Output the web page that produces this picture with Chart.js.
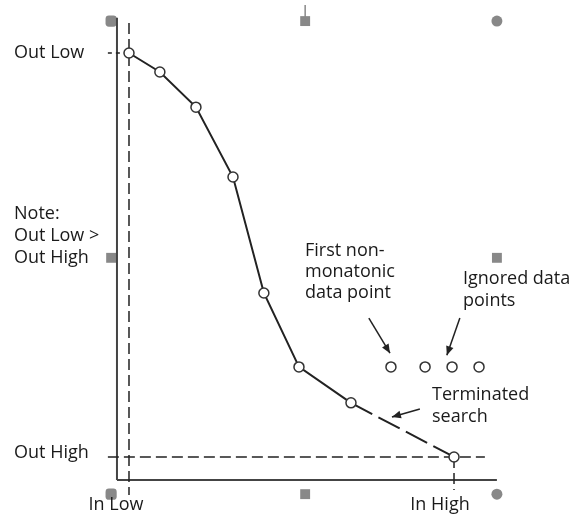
<!DOCTYPE html>
<html><head><meta charset="utf-8">
<script src="https://cdn.jsdelivr.net/npm/chart.js@4"></script>
<style>html,body{margin:0;padding:0;background:#fff}</style>
</head><body>
<canvas id="c" width="582" height="515"></canvas>
<script>
// ---- data (input units: In Low = 0, In High = 100; output units: Out High = 0, Out Low = 100)
const curveIn  = [0, 9.5, 20.6, 32.0, 41.5, 52.3, 68.3];
const curveOut = [100, 95.3, 86.6, 69.3, 40.6, 22.3, 13.4];
const searchIn  = [68.3, 100];
const searchOut = [13.4, 0];
const ignoredIn  = [80.6, 91.1, 99.4, 107.7];
const ignoredOut = [22.3, 22.3, 22.3, 22.3];
const axisYIn = [-3.7, -3.7];   const axisYOut = [108.7, -5.7];
const axisXIn = [-3.7, 113.2];  const axisXOut = [-5.7, -5.7];
const outLowIn = [-6.5, 0];     const outLowOut = [100, 100];
const outHighIn = [-6.5, 109.5]; const outHighOut = [0, 0];
const inLowIn = [0, 0];         const inLowOut = [107.4, -9.4];
const inHighIn = [100, 100];    const inHighOut = [0, -8.2];
const arrow1In = [73.8, 80.3];  const arrow1Out = [34.4, 25.7];
const arrow2In = [101.8, 97.8]; const arrow2Out = [34.4, 25.2];
const arrow3In = [89.5, 80.9];  const arrow3Out = [11.9, 9.9];
const handleIn  = [-5.5, 54.2, 113.2, -5.5, 113.2, -5.5, 54.2, 113.2];
const handleOut = [107.9, 107.9, 107.9, 49.3, 49.3, -9.2, -9.2, -9.2];
const handleShape = ['rectRounded', 'rect', 'circle', 'rect', 'rect', 'rectRounded', 'rect', 'circle'];
const stemIn = [54.2, 54.2];    const stemOut = [107.9, 111.9];
const axisLabels = ['Out Low', 'Out High', 'In Low', 'In High'];
const noteLines = ['Note:', 'Out Low >', 'Out High'];
const firstLines = ['First non-', 'monatonic', 'data point'];
const ignoredLines = ['Ignored data', 'points'];
const termLines = ['Terminated', 'search'];

const zip = (xs, ys) => xs.map((x, i) => ({x, y: ys[i]}));
const INK = '#222';
const FONT = '18px "Open Sans"';

const lineDs = (xs, ys, extra) => Object.assign({
  data: zip(xs, ys), showLine: true, borderColor: INK, borderWidth: 2,
  pointRadius: 0, fill: false, tension: 0, clip: false
}, extra || {});

const datasets = [
  lineDs(curveIn, curveOut, {pointRadius: 5, pointBackgroundColor: '#fff', pointBorderColor: '#333', pointBorderWidth: 1.5}),
  lineDs(searchIn, searchOut, {borderDash: [24, 7], pointRadius: [0, 5], pointBackgroundColor: '#fff', pointBorderColor: '#333', pointBorderWidth: 1.5}),
  {data: zip(ignoredIn, ignoredOut), showLine: false, pointRadius: 5, pointBackgroundColor: '#fff', pointBorderColor: '#333', pointBorderWidth: 1.5},
  lineDs(outLowIn, outLowOut, {borderWidth: 1.5, borderDash: [4, 4]}),
  lineDs(outHighIn, outHighOut, {borderWidth: 1.5, borderDash: [11, 5]}),
  lineDs(inLowIn, inLowOut, {borderWidth: 1.5, borderDash: [11, 5]}),
  lineDs(inHighIn, inHighOut, {borderWidth: 1.5, borderDash: [11, 5]}),
  lineDs(arrow1In, arrow1Out, {borderWidth: 1.5, arrowHead: true}),
  lineDs(arrow2In, arrow2Out, {borderWidth: 1.5, arrowHead: true}),
  lineDs(arrow3In, arrow3Out, {borderWidth: 1.5, arrowHead: true}),
  lineDs(axisYIn, axisYOut, {borderColor: '#444', borderWidth: 2}),
  lineDs(axisXIn, axisXOut, {borderColor: '#444', borderWidth: 2}),
  lineDs(stemIn, stemOut, {borderColor: '#888', borderWidth: 1.5}),
  {data: zip(handleIn, handleOut), showLine: false, pointStyle: handleShape,
   pointRadius: handleShape.map(s => s === 'rect' ? 7 : (s === 'circle' ? 5.5 : 6.5)),
   pointBackgroundColor: '#888', pointBorderColor: '#888', pointBorderWidth: 0, clip: false}
];

const arrowPlugin = {
  id: 'arrows',
  afterDatasetsDraw(chart) {
    const ctx = chart.ctx;
    chart.data.datasets.forEach((ds, i) => {
      if (!ds.arrowHead) return;
      const pts = chart.getDatasetMeta(i).data;
      const a = pts[pts.length - 2], b = pts[pts.length - 1];
      const ang = Math.atan2(b.y - a.y, b.x - a.x);
      const L = 9, W = 3.8;
      ctx.save();
      ctx.fillStyle = INK;
      ctx.beginPath();
      ctx.moveTo(b.x, b.y);
      ctx.lineTo(b.x - L * Math.cos(ang) + W * Math.sin(ang), b.y - L * Math.sin(ang) - W * Math.cos(ang));
      ctx.lineTo(b.x - L * Math.cos(ang) - W * Math.sin(ang), b.y - L * Math.sin(ang) + W * Math.cos(ang));
      ctx.closePath();
      ctx.fill();
      ctx.restore();
    });
  }
};

const textPlugin = {
  id: 'texts',
  afterDraw(chart) {
    const ctx = chart.ctx;
    const xs = chart.scales.x, ys = chart.scales.y;
    ctx.save();
    ctx.font = FONT;
    ctx.fillStyle = '#1a1a1a';
    ctx.textBaseline = 'middle';
    ctx.textAlign = 'left';
    ctx.fillText(axisLabels[0], 14, ys.getPixelForValue(100));
    ctx.fillText(axisLabels[1], 14, ys.getPixelForValue(0) - 4);
    ctx.textAlign = 'center';
    ctx.fillText(axisLabels[2], xs.getPixelForValue(0) - 13, 505);
    ctx.fillText(axisLabels[3], xs.getPixelForValue(100) - 14, 505);
    ctx.textAlign = 'left';
    const block = (lines, x, y0, lh) => lines.forEach((t, k) => ctx.fillText(t, x, y0 + k * lh));
    block(noteLines, 14, 214, 22);
    block(firstLines, 305, 251, 21);
    block(ignoredLines, 463, 279, 22);
    block(termLines, 432, 395, 22);
    ctx.restore();
  }
};

new Chart(document.getElementById('c'), {
  type: 'scatter',
  data: {datasets},
  options: {
    responsive: false, animation: false, events: [],
    layout: {padding: 0, autoPadding: false},
    plugins: {legend: {display: false}, tooltip: {enabled: false}},
    scales: {
      x: {type: 'linear', display: false, min: -39.69, max: 139.38},
      y: {type: 'linear', display: false, min: -14.36, max: 113.12}
    }
  },
  plugins: [arrowPlugin, textPlugin]
});
</script>
</body></html>
